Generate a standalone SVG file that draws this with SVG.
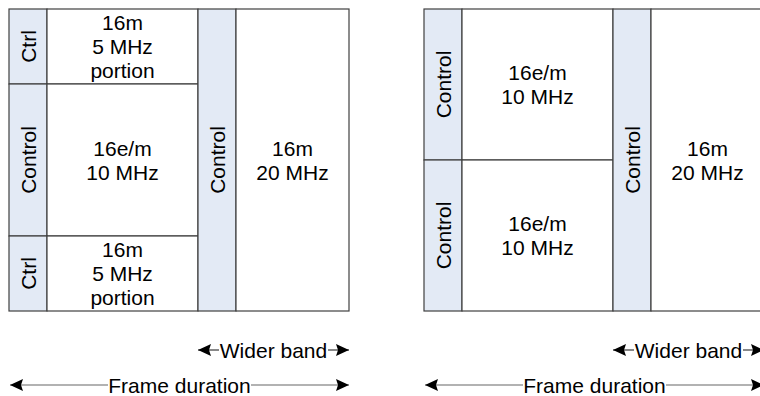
<svg xmlns="http://www.w3.org/2000/svg" width="760" height="396" viewBox="0 0 760 396">
<defs>
<marker id="ah" markerUnits="userSpaceOnUse" viewBox="0 0 14 14" markerWidth="14" markerHeight="14" refX="13" refY="7" orient="auto">
<path d="M0,1 L13,7 L0,13 L2,7 z" fill="#000"/>
</marker>
<style>
.cell{fill:#fff;stroke:#404040;stroke-width:1.2}
.ctl{fill:#e3eaf5;stroke:#404040;stroke-width:1.2}
text{font-family:"Liberation Sans",Arial,sans-serif;font-size:21px;fill:#000;text-anchor:middle}
.arr{stroke:#3a3a3a;stroke-width:1.2;fill:none;marker-end:url(#ah)}
.arr2{stroke:#666;stroke-width:1.2;fill:none;marker-end:url(#ah)}
</style>
</defs>
<rect width="760" height="396" fill="#fff"/>

<!-- Left diagram -->
<g id="L-ctrl-top"><rect class="ctl" x="9" y="9" width="38" height="75"/><text transform="translate(28,46.5) rotate(-90)" y="7.5">Ctrl</text></g>
<g id="L-5mhz-top"><rect class="cell" x="47" y="9" width="151" height="75"/><text x="122.5" y="30">16m</text><text x="122.5" y="54">5 MHz</text><text x="122.5" y="78">portion</text></g>
<g id="L-control-mid"><rect class="ctl" x="9" y="84" width="38" height="152"/><text transform="translate(28,160) rotate(-90)" y="7.5">Control</text></g>
<g id="L-10mhz"><rect class="cell" x="47" y="84" width="151" height="152"/><text x="122.5" y="155.5">16e/m</text><text x="122.5" y="179.5">10 MHz</text></g>
<g id="L-ctrl-bot"><rect class="ctl" x="9" y="236" width="38" height="75"/><text transform="translate(28,273.5) rotate(-90)" y="7.5">Ctrl</text></g>
<g id="L-5mhz-bot"><rect class="cell" x="47" y="236" width="151" height="75"/><text x="122.5" y="257">16m</text><text x="122.5" y="281">5 MHz</text><text x="122.5" y="305">portion</text></g>
<g id="L-control-wide"><rect class="ctl" x="198" y="9" width="38" height="302"/><text transform="translate(217,160) rotate(-90)" y="7.5">Control</text></g>
<g id="L-20mhz"><rect class="cell" x="236" y="9" width="113" height="302"/><text x="292.5" y="155.5">16m</text><text x="292.5" y="179.5">20 MHz</text></g>
<g id="L-wider-label"><text x="273.5" y="357.5">Wider band</text></g>
<g id="L-frame-label"><text x="179.5" y="392.5">Frame duration</text></g>

<!-- Right diagram -->
<g id="R-control-top"><rect class="ctl" x="424" y="9" width="38" height="151"/><text transform="translate(443,84.5) rotate(-90)" y="7.5">Control</text></g>
<g id="R-10mhz-top"><rect class="cell" x="462" y="9" width="151" height="151"/><text x="537.5" y="80">16e/m</text><text x="537.5" y="104">10 MHz</text></g>
<g id="R-control-bot"><rect class="ctl" x="424" y="160" width="38" height="151"/><text transform="translate(443,235.5) rotate(-90)" y="7.5">Control</text></g>
<g id="R-10mhz-bot"><rect class="cell" x="462" y="160" width="151" height="151"/><text x="537.5" y="231">16e/m</text><text x="537.5" y="255">10 MHz</text></g>
<g id="R-control-wide"><rect class="ctl" x="613" y="9" width="38" height="302"/><text transform="translate(632,160) rotate(-90)" y="7.5">Control</text></g>
<g id="R-20mhz"><rect class="cell" x="651" y="9" width="113" height="302"/><text x="707.5" y="155.5">16m</text><text x="707.5" y="179.5">20 MHz</text></g>
<g id="R-wider-label"><text x="688.5" y="357.5">Wider band</text></g>
<g id="R-frame-label"><text x="594.5" y="392.5">Frame duration</text></g>

<g id="connectors">
<line class="arr" x1="219" y1="350" x2="198" y2="350"/>
<line class="arr" x1="328" y1="350" x2="349" y2="350"/>
<line class="arr2" x1="108" y1="385" x2="10" y2="385"/>
<line class="arr2" x1="251" y1="385" x2="349" y2="385"/>
<line class="arr" x1="634" y1="350" x2="613" y2="350"/>
<line class="arr" x1="743" y1="350" x2="764" y2="350"/>
<line class="arr2" x1="523" y1="385" x2="425" y2="385"/>
<line class="arr2" x1="666" y1="385" x2="764" y2="385"/>
</g>
</svg>
